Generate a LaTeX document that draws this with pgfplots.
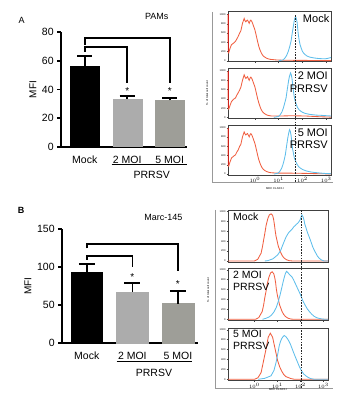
\documentclass[border=0pt]{standalone}
\usepackage{fontspec}
\setmainfont{Liberation Sans}
\usepackage{pgfplots}
\pgfplotsset{compat=1.18}
\definecolor{hred}{RGB}{240,95,65}
\definecolor{hdred}{RGB}{205,35,30}
\definecolor{hblue}{RGB}{95,190,235}
\definecolor{gA}{RGB}{172,172,172}
\definecolor{gB}{RGB}{158,158,152}
\newcommand{\fs}[1]{\fontsize{#1}{#1}\selectfont}
\pgfplotsset{
 barax/.style={scale only axis, axis lines*=left, axis line style={line width=1.7pt,-},
   ymin=0, xtick={0,1,2}, xticklabels={Mock,2 MOI,5 MOI}, x tick style={draw=none},
   tick align=outside, major tick length=3.5pt, y tick style={line width=1.7pt,black},
   ticklabel style={font=\fs{10.5}}, /pgf/number format/assume math mode=true,
   clip=false, xticklabel style={yshift=-2pt}, ylabel={MFI}},
 brk/.style={black, line width=1.7pt, mark=none},
 hist/.style={scale only axis, xmin=-1.13, xmax=3.2, ymin=-20, ymax=1060,
   axis line style={line width=0.7pt,black!75}, every tick/.style={black!75,line width=0.4pt},
   major tick length=1.5pt, tick align=outside, tick pos=left,
   ytick={0,200,...,1000}, xtick={0,1,2,3}, xticklabels={},
   yticklabel style={font=\fs{2.6}, inner sep=0.8pt}, xticklabel style={font=\fs{2.6}, inner sep=0.8pt},
   /pgf/number format/1000 sep={}, /pgf/number format/assume math mode=true,
   no marks, clip=false, every axis plot/.append style={line width=0.85pt}},
 histA/.style={hist, width=103pt, height=50pt},
 histB/.style={hist, width=100pt, height=52pt, xmin=-1.15, ymax=1030},
}
\begin{document}
\begin{tikzpicture}
\useasboundingbox (0,0) rectangle (342pt,397pt);
% ---------------- Panel A bar chart
\begin{axis}[barax, at={(60.7pt,250.3pt)}, anchor=south west, width=126pt, height=114.4pt,
  xmin=-0.566, xmax=2.40, ymax=80, ytick={0,20,...,80},
  every axis y label/.style={at={(axis description cs:-0.22,0.5)},rotate=90,anchor=center,font=\fs{10}}]
\addplot[ybar, bar shift=0pt, bar width=29pt, draw=black, fill=black, mark=none] coordinates {(0,56)};
\addplot[ybar, bar shift=0pt, bar width=29pt, draw=gA, fill=gA, mark=none] coordinates {(1,33.4)};
\addplot[ybar, bar shift=0pt, bar width=29pt, draw=gB, fill=gB, mark=none] coordinates {(2,32.4)};
% error bars (mean + SD): stem and cap
\addplot[brk] coordinates {(0,56) (0,63.6)};
\addplot[brk] coordinates {(-0.18,63.6) (0.18,63.6)};
\addplot[brk] coordinates {(1,33.4) (1,35.5)};
\addplot[brk] coordinates {(0.82,35.5) (1.18,35.5)};
\addplot[brk] coordinates {(2,32.4) (2,34.3)};
\addplot[brk] coordinates {(1.82,34.3) (2.18,34.3)};
% significance brackets
\addplot[brk] coordinates {(0,71) (0,76.2) (2,76.2) (2,44.3)};
\addplot[brk] coordinates {(0,66.4) (0,69.5) (1,69.5) (1,44.3)};
\node[font=\fs{10}] at (axis cs:1,39.2) {*};
\node[font=\fs{10}] at (axis cs:2,39.2) {*};
\end{axis}
\node[font=\fs{9}] at (21.7pt,377pt) {A};
\node[font=\fs{9}] at (156.7pt,380.3pt) {PAMs};
\draw[line width=1.5pt] (111.7pt,232.7pt) -- (186.7pt,232.7pt);
\node[font=\fs{10.5}] at (151.7pt,222pt) {PRRSV};
% ---------------- Panel B bar chart
\begin{axis}[barax, at={(61.7pt,53.7pt)}, anchor=south west, width=136.3pt, height=114.3pt,
  xmin=-0.55, xmax=2.44, ymax=150, ytick={0,50,100,150},
  every axis y label/.style={at={(axis description cs:-0.247,0.5)},rotate=90,anchor=center,font=\fs{10}}]
\addplot[ybar, bar shift=0pt, bar width=31.7pt, draw=black, fill=black, mark=none] coordinates {(0,93)};
\addplot[ybar, bar shift=0pt, bar width=31.7pt, draw=gA, fill=gA, mark=none] coordinates {(1,67)};
\addplot[ybar, bar shift=0pt, bar width=31.7pt, draw=gB, fill=gB, mark=none] coordinates {(2,52)};
\addplot[brk] coordinates {(0,93) (0,103.7)};
\addplot[brk] coordinates {(-0.175,103.7) (0.175,103.7)};
\addplot[brk] coordinates {(1,67) (1,79.5)};
\addplot[brk] coordinates {(0.825,79.5) (1.175,79.5)};
\addplot[brk] coordinates {(2,52) (2,69)};
\addplot[brk] coordinates {(1.825,69) (2.175,69)};
\addplot[brk] coordinates {(0,124.7) (0,130.3) (2,130.3) (2,95)};
\addplot[brk] coordinates {(0,109.7) (0,115) (1,115) (1,100.5)};
\node[font=\fs{10}] at (axis cs:1,86.5) {*};
\node[font=\fs{10}] at (axis cs:2,78) {*};
\end{axis}
\node[font=\bfseries\fs{9}] at (21pt,187pt) {B};
\node[font=\fs{9}] at (163.3pt,179.3pt) {Marc-145};
\draw[line width=1.5pt] (116.7pt,35.3pt) -- (191.7pt,35.3pt);
\node[font=\fs{10.5}] at (154pt,23.7pt) {PRRSV};
% ---------------- Panel A histograms
\draw[black!40, line width=0.5pt] (212pt,385pt) -- (212pt,215pt) -- (333pt,215pt);
\node[rotate=90, font=\fs{2.8}] at (207pt,304pt) {\% of total cell count};
\node[font=\fs{2.8}] at (275pt,208pt) {MHC CLASS I};
\begin{axis}[histA, at={(228pt,385.3pt)}, anchor=north west]
\addplot[hred] coordinates {(-1.13,1000)(-1.12,180)(-1.10,170)(-1.05,260)(-0.985,347)(-0.90,380)(-0.816,418)(-0.76,470)(-0.703,525)(-0.64,600)(-0.591,645)(-0.52,810)(-0.45,914)(-0.41,860)(-0.38,842)(-0.34,870)(-0.31,878)(-0.27,840)(-0.239,810)(-0.20,860)(-0.169,878)(-0.13,850)(-0.098,810)(-0.05,740)(0.0,670)(0.06,540)(0.113,418)(0.16,320)(0.211,240)(0.26,180)(0.309,134)(0.36,100)(0.422,77)(0.49,55)(0.563,42)(0.63,32)(0.703,28)(0.9,18)(1.125,12)(1.5,10)(2.11,8)(2.67,5)(3.2,3)};
\addplot[hdred, line width=1.3pt] coordinates {(-1.122,200)(-1.122,1000)};
\addplot[hblue] coordinates {(1.0,0)(1.195,20)(1.266,60)(1.34,120)(1.406,205)(1.46,300)(1.519,418)(1.56,560)(1.603,700)(1.635,800)(1.659,878)(1.69,930)(1.716,949)(1.74,910)(1.772,842)(1.80,700)(1.828,560)(1.86,450)(1.899,347)(1.95,270)(1.997,205)(2.05,165)(2.11,134)(2.2,100)(2.32,77)(2.5,60)(2.67,49)(2.8,45)(2.95,42)(3.05,50)(3.12,60)(3.2,70)};
\node[anchor=north east, inner sep=0pt, font=\fs{11}] at (rel axis cs:0.985,0.95) {Mock};
\end{axis}
\begin{axis}[histA, at={(228pt,328.7pt)}, anchor=north west]
\addplot[hred] coordinates {(-1.13,1000)(-1.12,190)(-1.10,175)(-1.05,250)(-0.985,340)(-0.90,390)(-0.816,420)(-0.76,480)(-0.703,530)(-0.64,590)(-0.591,650)(-0.52,800)(-0.45,920)(-0.41,870)(-0.38,840)(-0.34,860)(-0.31,880)(-0.27,830)(-0.239,800)(-0.20,850)(-0.169,870)(-0.13,840)(-0.098,800)(-0.05,730)(0.0,660)(0.06,530)(0.113,410)(0.16,320)(0.211,240)(0.26,175)(0.309,130)(0.36,100)(0.422,75)(0.49,55)(0.563,42)(0.63,35)(0.703,30)(0.9,28)(1.125,30)(1.5,35)(2.11,30)(2.67,15)(3.2,5)};
\addplot[hdred, line width=1.3pt] coordinates {(-1.122,200)(-1.122,1000)};
\addplot[hblue] coordinates {(0.8,0)(1.0,20)(1.07,60)(1.14,120)(1.2,205)(1.25,300)(1.31,418)(1.35,560)(1.39,700)(1.42,800)(1.45,878)(1.48,930)(1.50,960)(1.53,920)(1.56,842)(1.59,700)(1.62,570)(1.65,460)(1.69,360)(1.74,280)(1.79,215)(1.85,170)(1.91,140)(2.0,110)(2.12,85)(2.3,65)(2.47,55)(2.6,48)(2.75,45)(2.9,40)(3.05,35)(3.2,30)};
\node[anchor=north east, inner sep=0pt, align=right, font=\fontsize{11}{12.5}\selectfont] at (rel axis cs:0.97,0.926) {2 MOI\\PRRSV};
\end{axis}
\begin{axis}[histA, at={(228pt,272pt)}, anchor=north west, xticklabels={$10^{0}$,$10^{1}$,$10^{2}$,$10^{3}$}]
\addplot[hred] coordinates {(-1.13,1000)(-1.12,185)(-1.10,170)(-1.05,255)(-0.985,345)(-0.90,385)(-0.816,415)(-0.76,475)(-0.703,520)(-0.64,600)(-0.591,640)(-0.52,805)(-0.45,910)(-0.41,865)(-0.38,845)(-0.34,865)(-0.31,875)(-0.27,835)(-0.239,805)(-0.20,855)(-0.169,875)(-0.13,845)(-0.098,805)(-0.05,735)(0.0,665)(0.06,535)(0.113,415)(0.16,320)(0.211,240)(0.26,178)(0.309,132)(0.36,100)(0.422,76)(0.49,55)(0.563,42)(0.63,33)(0.703,28)(0.9,22)(1.125,20)(1.5,20)(2.11,15)(2.67,8)(3.2,3)};
\addplot[hdred, line width=1.3pt] coordinates {(-1.122,200)(-1.122,1000)};
\addplot[hblue] coordinates {(0.8,0)(0.98,20)(1.05,60)(1.12,120)(1.18,205)(1.23,300)(1.28,418)(1.32,560)(1.36,700)(1.39,800)(1.42,878)(1.44,930)(1.46,960)(1.49,920)(1.52,842)(1.55,700)(1.58,560)(1.62,450)(1.66,347)(1.72,270)(1.78,205)(1.84,160)(1.92,125)(2.02,95)(2.15,70)(2.3,50)(2.5,35)(2.7,25)(2.9,15)(3.2,8)};
\addplot[black!85, line width=1.1pt, dash pattern=on 1.6pt off 1.2pt] coordinates {(1.72,-171)(1.72,3436)};
\node[anchor=north east, inner sep=0pt, align=right, font=\fontsize{11}{12}\selectfont] at (rel axis cs:0.97,0.934) {5 MOI\\PRRSV};
\end{axis}
% ---------------- Panel B histograms
\draw[black!40, line width=0.5pt] (215pt,187pt) -- (215pt,9pt) -- (333pt,9pt);
\node[rotate=90, font=\fs{2.8}] at (208pt,107pt) {\% of total cell count};
\node[font=\fs{2.8}] at (278pt,7pt) {MHC CLASS I};
\begin{axis}[histB, at={(228pt,187pt)}, anchor=north west]
\addplot[hred] coordinates {(-1.15,0)(0.0,0)(0.144,35)(0.29,159)(0.35,290)(0.404,435)(0.46,580)(0.505,711)(0.577,849)(0.649,932)(0.722,952)(0.794,918)(0.83,850)(0.866,745)(0.90,620)(0.938,504)(1.039,297)(1.154,159)(1.22,100)(1.3,56)(1.4,25)(1.515,7)(1.659,0)(3.2,0)};
\addplot[hblue] coordinates {(0.45,0)(0.577,7)(0.794,42)(0.9,80)(1.01,124)(1.08,170)(1.154,228)(1.22,310)(1.3,401)(1.37,480)(1.443,539)(1.5,580)(1.558,607)(1.61,630)(1.659,656)(1.71,690)(1.76,711)(1.82,740)(1.876,759)(1.93,790)(1.991,835)(2.03,890)(2.063,932)(2.09,910)(2.12,883)(2.16,820)(2.19,745)(2.25,660)(2.308,573)(2.37,500)(2.424,435)(2.48,360)(2.525,297)(2.6,220)(2.67,159)(2.74,100)(2.814,56)(2.915,21)(3.03,0)(3.2,0)};
\node[anchor=north west, inner sep=0pt, font=\fs{10.5}] at (rel axis cs:0.05,0.94) {Mock};
\end{axis}
\begin{axis}[histB, at={(228pt,128.7pt)}, anchor=north west]
\addplot[hred] coordinates {(-1.15,0)(0.05,0)(0.19,35)(0.34,159)(0.40,290)(0.45,435)(0.51,580)(0.555,711)(0.63,850)(0.70,935)(0.77,960)(0.84,920)(0.88,850)(0.92,745)(0.95,620)(0.99,504)(1.09,297)(1.2,159)(1.27,100)(1.35,56)(1.45,25)(1.57,7)(1.7,0)(3.2,0)};
\addplot[hblue] coordinates {(0.35,0)(0.5,20)(0.65,50)(0.75,90)(0.85,150)(0.95,240)(1.05,380)(1.12,500)(1.18,620)(1.25,760)(1.3,850)(1.35,930)(1.4,970)(1.44,950)(1.48,930)(1.53,900)(1.58,880)(1.64,850)(1.7,800)(1.76,740)(1.82,680)(1.88,620)(1.94,560)(2.0,500)(2.06,430)(2.12,360)(2.2,290)(2.3,210)(2.4,150)(2.5,100)(2.6,60)(2.7,35)(2.8,20)(2.95,5)(3.1,0)(3.2,0)};
\node[anchor=north west, inner sep=0pt, align=left, font=\fontsize{10.5}{11.5}\selectfont] at (rel axis cs:0.05,0.948) {2 MOI\\PRRSV};
\end{axis}
\begin{axis}[histB, at={(228pt,68.7pt)}, anchor=north west, xticklabels={$10^{0}$,$10^{1}$,$10^{2}$,$10^{3}$}]
\addplot[hred] coordinates {(-1.15,0)(0.0,0)(0.15,30)(0.29,136)(0.4,380)(0.505,612)(0.6,850)(0.69,932)(0.79,850)(0.9,612)(1.01,374)(1.1,250)(1.18,170)(1.27,100)(1.37,54)(1.59,14)(1.75,0)(3.2,0)};
\addplot[hblue] coordinates {(0.16,0)(0.45,20)(0.72,70)(0.85,180)(0.94,340)(1.01,500)(1.08,680)(1.13,760)(1.18,816)(1.24,860)(1.3,884)(1.37,860)(1.44,816)(1.5,770)(1.56,714)(1.63,630)(1.7,544)(1.79,440)(1.88,340)(1.96,250)(2.05,170)(2.14,110)(2.24,68)(2.35,35)(2.45,14)(2.6,0)(3.2,0)};
\addplot[black!85, line width=1.1pt, dash pattern=on 1.6pt off 1.2pt] coordinates {(2.05,-175)(2.05,3418)};
\node[anchor=north west, inner sep=0pt, align=left, font=\fontsize{10.5}{11.5}\selectfont] at (rel axis cs:0.05,0.965) {5 MOI\\PRRSV};
\end{axis}
\end{tikzpicture}
\end{document}
